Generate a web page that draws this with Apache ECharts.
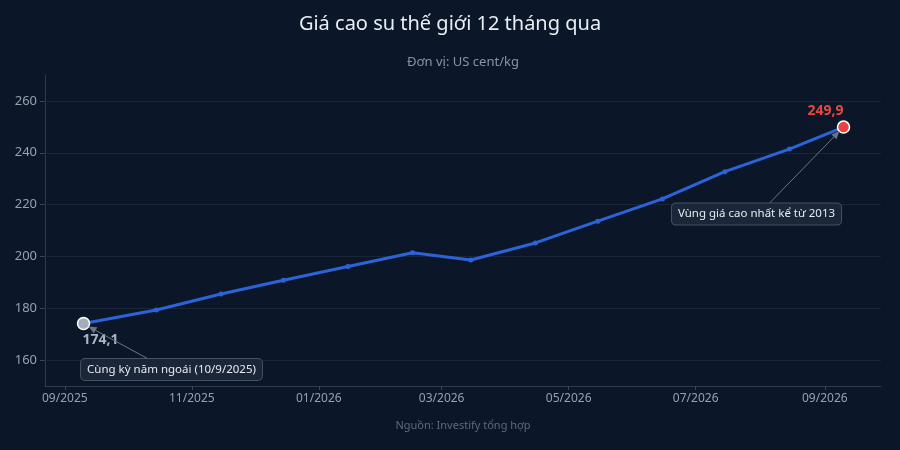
<!DOCTYPE html>
<html>
<head>
<meta charset="utf-8">
<script src="https://cdn.jsdelivr.net/npm/echarts@6/dist/echarts.min.js"></script>
<style>
html,body{margin:0;padding:0;background:#0b1729;}
#c{width:900px;height:450px;}
</style>
</head>
<body>
<div id="c"></div>
<script>
// ---- data ----
var dates = ['2025-09-10','2025-10-15','2025-11-15','2025-12-15','2026-01-15','2026-02-15','2026-03-15','2026-04-15','2026-05-15','2026-06-15','2026-07-15','2026-08-15','2026-09-10'];
var prices = [174.1, 179.3, 185.5, 190.8, 196.1, 201.4, 198.6, 205.2, 213.6, 222.2, 232.7, 241.4, 249.9];
var tickMonths = ['2025-09','2025-11','2026-01','2026-03','2026-05','2026-07','2026-09'];
var yTicks = [160, 180, 200, 220, 240, 260];
var titleText = 'Giá cao su thế giới 12 tháng qua';
var subtitleText = 'Đơn vị: US cent/kg';
var sourceText = 'Nguồn: Investify tổng hợp';
var noteFirst = 'Cùng kỳ năm ngoái (10/9/2025)';
var noteLast = 'Vùng giá cao nhất kể từ 2013';

function toTs(s){ var p=s.split('-'); return Date.UTC(+p[0], +p[1]-1, p[2]?+p[2]:1); }
function fmt(v){ return String(v.toFixed(1)).replace('.', ','); }
var DAY = 86400000;
var tsList = dates.map(toTs);
var tickTs = tickMonths.map(toTs);
var xMin = tsList[0] - 18.5*DAY, xMax = tsList[tsList.length-1] + 18*DAY;
var seriesData = tsList.map(function(t,i){
  var item = {value:[t, prices[i]]};
  if (i === 0) {
    item.symbolSize = 12;
    item.itemStyle = {color:'#a3adbb', borderColor:'#ffffff', borderWidth:1.5};
    item.label = {show:true, position:'bottom', offset:[17,-2], formatter:function(){return fmt(prices[0]);}, color:'#a9b3c1', fontSize:14, fontWeight:'bold', fontFamily:'Noto Sans'};
  } else if (i === prices.length-1) {
    item.symbolSize = 12;
    item.itemStyle = {color:'#e8413f', borderColor:'#ffffff', borderWidth:1.5};
    item.label = {show:true, position:'top', offset:[-18,3], formatter:function(){return fmt(prices[prices.length-1]);}, color:'#e8473f', fontSize:14, fontWeight:'bold', fontFamily:'Noto Sans'};
  }
  return item;
});

var chart = echarts.init(document.getElementById('c'), null, {renderer:'canvas'});
chart.setOption({
  animation:false,
  backgroundColor:'#0b1729',
  textStyle:{fontFamily:'Noto Sans'},
  title:[
    {text:titleText, left:'center', top:9, textStyle:{color:'#e9eef4', fontSize:20, fontWeight:'normal', fontFamily:'Noto Sans'}}
  ],
  grid:{left:45, right:19, top:75, bottom:64, containLabel:false},
  xAxis:{
    type:'value',
    min: xMin,
    max: xMax,
    axisLine:{show:true, lineStyle:{color:'#2f3c4f', width:1}},
    axisTick:{show:true, customValues:tickTs, length:4, lineStyle:{color:'#3a4759'}},
    axisLabel:{customValues:tickTs, color:'#96a1b0', fontSize:12, fontFamily:'Noto Sans', margin:7,
      formatter:function(v){var d=new Date(v); var m=d.getUTCMonth()+1; return (m<10?'0':'')+m+'/'+d.getUTCFullYear();}},
    splitLine:{show:false}
  },
  yAxis:{
    type:'value', min:150, max:270,
    axisLine:{show:true, lineStyle:{color:'#2f3c4f'}},
    axisTick:{show:true, customValues:yTicks, length:5, lineStyle:{color:'#3a4759'}},
    axisLabel:{customValues:yTicks, color:'#96a1b0', fontSize:13, fontFamily:'Noto Sans', margin:8},
    splitLine:{show:false}
  },
  series:[{
    type:'line',
    data:seriesData,
    symbol:'circle',
    symbolSize:5,
    lineStyle:{color:'#2c63d9', width:3},
    itemStyle:{color:'#2c63d9'},
    z:3,
    markLine:{silent:true, symbol:'none', label:{show:false}, lineStyle:{color:'#1a2637', width:1, type:'solid'}, data:yTicks.map(function(v){return {yAxis:v};}), z:1}
  }]
});

function arrowGraphics(from, to){
  var dx = to[0]-from[0], dy = to[1]-from[1];
  var len = Math.sqrt(dx*dx+dy*dy);
  var ux = dx/len, uy = dy/len;
  var tip = [to[0], to[1]];
  var L = 8, W = 3.5;
  var bx = tip[0]-ux*L, by = tip[1]-uy*L;
  return [
    {type:'line', shape:{x1:from[0], y1:from[1], x2:bx, y2:by}, style:{stroke:'#6b7585', lineWidth:1}, z:5},
    {type:'polygon', shape:{points:[tip, [bx-uy*W, by+ux*W], [bx+uy*W, by-ux*W]]}, style:{fill:'#6b7585'}, z:5}
  ];
}
function noteBox(text, cx, cy){
  return {type:'text', x:cx, y:cy, z:6,
    style:{text:text, fill:'#e6ebf1', font:'11.5px "Noto Sans"', align:'center', verticalAlign:'middle',
      backgroundColor:'#1b2638', borderColor:'#465264', borderWidth:1, borderRadius:4, padding:[5,6,4,6]}};
}
var p0 = chart.convertToPixel({gridIndex:0}, [tsList[0], prices[0]]);
var pN = chart.convertToPixel({gridIndex:0}, [tsList[tsList.length-1], prices[prices.length-1]]);
var gl = chart.convertToPixel({gridIndex:0}, [xMin, 150]);
var gr = chart.convertToPixel({gridIndex:0}, [xMax, 270]);
var plotCx = (gl[0]+gr[0])/2;
var g = [];
g.push({type:'text', x:plotCx, y:62, style:{text:subtitleText, fill:'#8994a3', font:'13px "Noto Sans"', align:'center', verticalAlign:'middle'}});
g.push({type:'text', x:plotCx, y:426, style:{text:sourceText, fill:'#5d6a7b', font:'11px "Noto Sans"', align:'center', verticalAlign:'middle'}});
var b0 = [p0[0]+88, p0[1]+46];
g = g.concat(arrowGraphics([p0[0]+64, p0[1]+35], [p0[0]+5, p0[1]+3]));
g.push(noteBox(noteFirst, b0[0], b0[1]));
var bN = [pN[0]-87, pN[1]+87];
g = g.concat(arrowGraphics([pN[0]-74, pN[1]+76], [pN[0]-4, pN[1]+4]));
g.push(noteBox(noteLast, bN[0], bN[1]));
chart.setOption({graphic:g});
</script>
</body>
</html>
